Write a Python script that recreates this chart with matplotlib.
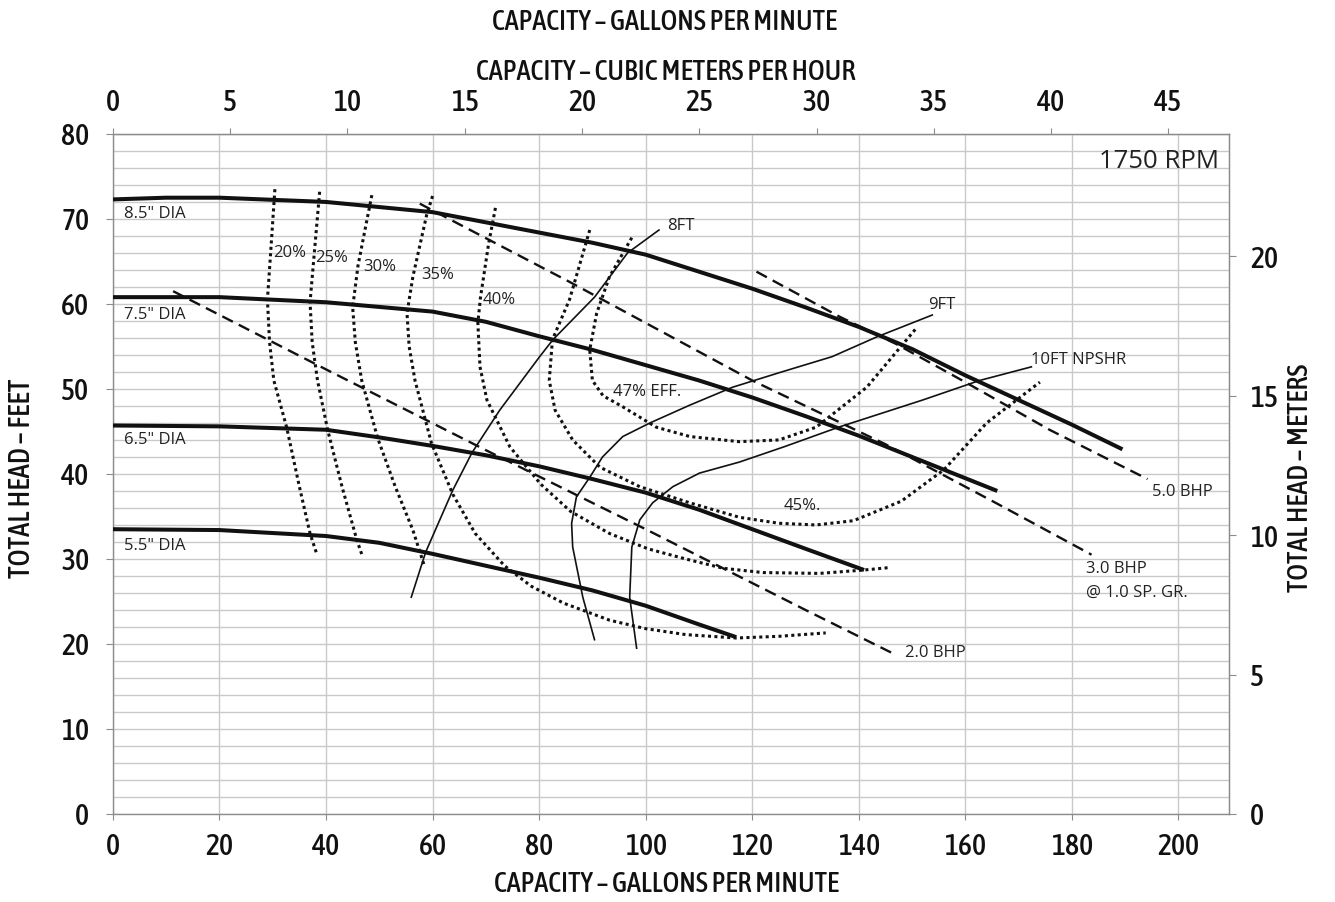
import matplotlib
matplotlib.use('Agg')
import matplotlib.pyplot as plt
from matplotlib import font_manager
from matplotlib.font_manager import FontProperties
from matplotlib.ticker import MultipleLocator

# --- impeller head curves (GPM, ft) ---
dia85_gpm = [0, 10, 20, 40, 60, 80, 90, 100, 110, 120, 130, 140, 150, 160, 170, 180, 189.5]
dia85_ft = [72.3, 72.5, 72.5, 72.0, 70.8, 68.4, 67.2, 65.8, 63.8, 61.8, 59.6, 57.3, 54.7,
            51.6, 48.7, 45.8, 42.9]
dia75_gpm = [0, 20, 40, 60, 70, 80, 90, 100, 110, 120, 130, 140, 150, 160, 166]
dia75_ft = [60.8, 60.8, 60.2, 59.1, 57.9, 56.2, 54.6, 52.8, 51.0, 49.0, 46.8, 44.5, 42.0,
            39.5, 38.0]
dia65_gpm = [0, 20, 40, 50, 60, 70, 80, 90, 100, 110, 120, 130, 141]
dia65_ft = [45.7, 45.6, 45.2, 44.3, 43.3, 42.2, 40.9, 39.4, 37.8, 35.8, 33.5, 31.2, 28.7]
dia55_gpm = [0, 20, 40, 50, 60, 70, 80, 90, 100, 110, 117]
dia55_ft = [33.5, 33.4, 32.7, 31.9, 30.6, 29.2, 27.8, 26.3, 24.5, 22.3, 20.8]

# --- brake horsepower lines ---
bhp2_gpm = [11.3, 40, 70, 100, 130, 146.7]
bhp2_ft = [61.5, 52.3, 42.8, 33.5, 24.0, 18.8]
bhp3_gpm = [57.6, 85.7, 120, 145, 166, 183.7]
bhp3_ft = [71.8, 62.6, 51.0, 43.5, 36.5, 30.5]
bhp5_gpm = [120.8, 136.4, 147, 160, 175.8, 194.2]
bhp5_ft = [63.8, 58.5, 55.3, 50.8, 45.2, 39.4]

# --- efficiency curves ---
eff20_gpm = [30.4, 29.6, 29.0, 29.4, 30.2, 32.6, 35.0, 37.0, 38.3]
eff20_ft = [73.5, 66.0, 60.5, 55.5, 51.0, 45.5, 38.5, 33.0, 30.5]
eff25_gpm = [38.8, 37.8, 37.0, 37.4, 38.4, 40.3, 43.0, 45.8, 46.9]
eff25_ft = [73.2, 66.0, 60.2, 55.5, 51.0, 45.2, 38.5, 32.2, 30.2]
eff30_gpm = [48.6, 47.4, 46.0, 45.0, 45.5, 46.7, 49.7, 53.0, 56.3, 58.5]
eff30_ft = [72.8, 69.0, 64.5, 59.6, 55.5, 51.0, 44.2, 38.5, 33.4, 29.1]
eff35_gpm = [60.0, 58.9, 56.3, 55.2, 55.6, 56.7, 59.8, 63.8, 68.0, 73.5, 78.5,
             84.6, 93.2, 100.0, 107.5, 117.0, 125.0, 133.8]
eff35_ft = [72.7, 70.5, 63.2, 58.9, 55.0, 51.0, 43.6, 37.6, 33.0, 29.2, 26.8,
            24.8, 22.8, 21.8, 21.1, 20.7, 20.9, 21.3]
eff40_gpm = [71.8, 70.5, 69.0, 68.5, 68.9, 70.2, 74.5, 80.3, 85.9, 93.2, 100.4,
             107.5, 114.6, 122.0, 132.6, 141.0, 146.0]
eff40_ft = [71.3, 67.0, 60.8, 57.8, 52.6, 48.7, 43.2, 38.8, 35.6, 33.0, 31.2,
            30.0, 28.9, 28.4, 28.3, 28.7, 29.0]
eff45_gpm = [89.5, 85.7, 82.5, 81.9, 83.0, 86.3, 91.4, 98.9, 108.3, 117.6, 125.0,
             132.0, 139.0, 148.0, 156.0, 164.0, 174.0]
eff45_ft = [68.7, 60.5, 55.8, 51.0, 47.5, 44.0, 40.8, 38.5, 36.6, 34.9, 34.2,
            34.0, 34.5, 36.8, 40.5, 46.0, 50.8]
eff47_gpm = [97.4, 93.2, 90.8, 89.5, 90.0, 92.0, 95.7, 102.0, 108.3, 117.6, 125.0,
             132.0, 141.5, 151.0]
eff47_ft = [67.8, 63.2, 58.9, 54.6, 51.0, 49.2, 47.9, 45.5, 44.4, 43.8, 44.0,
            45.5, 50.2, 57.3]

# --- NPSHR curves ---
npsh8_gpm = [56.0, 58.7, 63.8, 67.4, 72.6, 80.1, 82.6, 90.4, 96.6, 102.5]
npsh8_ft = [25.5, 30.8, 38.1, 42.5, 47.5, 53.8, 55.8, 60.8, 66.0, 68.7]
npsh9_gpm = [90.4, 88.2, 86.3, 86.1, 87.0, 89.5, 91.9, 95.7, 100.8, 108.3, 116.3,
             125.0, 135.0, 143.3, 153.8]
npsh9_ft = [20.5, 25.5, 31.4, 34.2, 37.3, 39.6, 42.0, 44.4, 46.0, 48.1, 50.2,
            51.9, 53.8, 56.1, 58.7]
npsh10_gpm = [98.3, 97.0, 97.4, 98.9, 101.3, 105.1, 110.1, 117.6, 126.0, 136.2,
              152.0, 162.7, 172.4]
npsh10_ft = [19.5, 25.5, 31.4, 34.6, 36.6, 38.5, 40.1, 41.4, 43.2, 45.5,
             48.7, 51.0, 52.6]

# axis ticks
gpm_ticks = [0, 20, 40, 60, 80, 100, 120, 140, 160, 180, 200]
ft_ticks = [0, 10, 20, 30, 40, 50, 60, 70, 80]
m3h_ticks = [0, 5, 10, 15, 20, 25, 30, 35, 40, 45]
m_ticks = [0, 5, 10, 15, 20]

GPM_TO_M3H = 0.2271247
FT_TO_M = 0.3048

LABEL = ['Open Sans', 'DejaVu Sans']
GRID = '#c9c9c9'
SPINE = '#8c8c8c'


def narrow_font():
    """Pick a condensed / narrow face (medium weight if there is one)."""
    found = []
    for f in font_manager.fontManager.ttflist:
        key = (f.name + ' ' + f.fname.split('/')[-1]).lower()
        if ('narrow' in key or 'condensed' in key) and f.style == 'normal':
            if 'light' in key or 'thin' in key or 'black' in key:
                continue
            w = f.weight if isinstance(f.weight, int) else 400
            if 'medium' in key:
                w = 500
            elif 'semibold' in key:
                w = 600
            elif 'bold' in key:
                w = 700
            found.append((abs(w - 520), key, f.fname))
    if found:
        found.sort()
        return FontProperties(fname=found[0][2]), True
    return FontProperties(family=['Liberation Sans', 'DejaVu Sans']), False


def fit_size(fig, s, fp, width_px, base=20.0):
    # scale font size so the text spans width_px, as in the scanned chart
    r = fig.canvas.get_renderer()
    t = fig.text(0, 0, s, fontproperties=fp, fontsize=base)
    w = t.get_window_extent(r).width
    t.remove()
    return base * width_px / w


def plot_pump_curves(plot_file='out.png'):
    fig = plt.figure(figsize=(13.35, 9.02), dpi=100)
    ax = fig.add_axes([0.0846, 0.0976, 0.8360, 0.7539])
    ax.set_xlim(0, 209.5)
    ax.set_ylim(0, 80)
    ax.set_axisbelow(True)

    fp, is_narrow = narrow_font()
    tick_size = min(22.0, fit_size(fig, '200', fp, 42)) if is_narrow else 19.0

    # grid: vertical every 20 GPM, horizontal every 2 ft
    ax.set_xticks(gpm_ticks)
    ax.set_yticks(ft_ticks)
    ax.yaxis.set_minor_locator(MultipleLocator(2))
    ax.grid(which='major', axis='x', color=GRID, lw=1)
    ax.grid(which='both', axis='y', color=GRID, lw=1)
    ax.tick_params(which='minor', length=0)
    ax.tick_params(axis='x', which='major', direction='out', length=4, color=SPINE, pad=9)
    ax.tick_params(axis='y', which='major', direction='out', length=5, color=SPINE, pad=12)
    for s in ax.spines.values():
        s.set_color(SPINE)
        s.set_linewidth(1)

    # secondary scales
    top = ax.secondary_xaxis('top', functions=(lambda q: q * GPM_TO_M3H,
                                                lambda q: q / GPM_TO_M3H))
    top.set_xticks(m3h_ticks)
    top.tick_params(direction='out', length=4, color=SPINE, pad=8)
    top.spines['top'].set_color(SPINE)
    right = ax.secondary_yaxis('right', functions=(lambda h: h * FT_TO_M,
                                                    lambda h: h / FT_TO_M))
    right.set_yticks(m_ticks)
    right.tick_params(direction='out', length=5, color=SPINE, pad=10)
    right.spines['right'].set_color(SPINE)

    for lbl in (ax.get_xticklabels() + ax.get_yticklabels() +
                top.get_xticklabels() + right.get_yticklabels()):
        lbl.set_fontproperties(fp)
        lbl.set_fontsize(tick_size)
        lbl.set_color('#111111')

    # head curves
    for q, h in [(dia85_gpm, dia85_ft), (dia75_gpm, dia75_ft),
                 (dia65_gpm, dia65_ft), (dia55_gpm, dia55_ft)]:
        ax.plot(q, h, color='#111111', lw=2.9, solid_capstyle='butt',
                solid_joinstyle='round', zorder=4)

    # BHP lines
    for q, h in [(bhp2_gpm, bhp2_ft), (bhp3_gpm, bhp3_ft), (bhp5_gpm, bhp5_ft)]:
        ax.plot(q, h, color='#111111', lw=1.7, linestyle=(0, (5, 2.8)), zorder=3)

    # efficiency
    for q, h in [(eff20_gpm, eff20_ft), (eff25_gpm, eff25_ft), (eff30_gpm, eff30_ft),
                 (eff35_gpm, eff35_ft), (eff40_gpm, eff40_ft), (eff45_gpm, eff45_ft),
                 (eff47_gpm, eff47_ft)]:
        ax.plot(q, h, color='#111111', lw=2.2, linestyle=(0, (1, 1.1)), zorder=3)

    # NPSHR
    for q, h in [(npsh8_gpm, npsh8_ft), (npsh9_gpm, npsh9_ft), (npsh10_gpm, npsh10_ft)]:
        ax.plot(q, h, color='#111111', lw=1.2, solid_joinstyle='round', zorder=3)

    # curve labels
    kw = dict(fontsize=12, family=LABEL, color='#222222', va='center', zorder=5)
    ax.text(2.1, 70.6, '8.5" DIA', **kw)
    ax.text(2.1, 58.7, '7.5" DIA', **kw)
    ax.text(2.1, 44.0, '6.5" DIA', **kw)
    ax.text(2.1, 31.5, '5.5" DIA', **kw)
    ax.text(30.0, 66.0, '20%', **kw)
    ax.text(37.9, 65.4, '25%', **kw)
    ax.text(46.9, 64.4, '30%', **kw)
    ax.text(57.8, 63.4, '35%', **kw)
    ax.text(69.4, 60.5, '40%', **kw)
    ax.text(93.8, 49.6, '47% EFF.', **kw)
    ax.text(125.9, 36.2, '45%.', **kw)
    ax.text(104.0, 69.2, '8FT', **kw)
    ax.text(153.0, 59.9, '9FT', **kw)
    ax.text(172.4, 53.4, '10FT NPSHR', **kw)
    ax.text(195.0, 37.9, '5.0 BHP', **kw)
    ax.text(182.7, 28.8, '3.0 BHP', **kw)
    ax.text(182.7, 26.0, '@ 1.0 SP. GR.', **kw)
    ax.text(148.6, 18.9, '2.0 BHP', **kw)
    ax.text(207.7, 76.7, '1750 RPM', fontsize=18.5, family=LABEL, color='#222222',
            ha='right', va='center', zorder=5)

    # axis titles, sized to the widths measured on the reference
    titles = [
        (665, 22, 'CAPACITY – GALLONS PER MINUTE', 345, 0),
        (666, 73, 'CAPACITY – CUBIC METERS PER HOUR', 378, 0),
        (666, 885, 'CAPACITY – GALLONS PER MINUTE', 345, 0),
        (22, 478, 'TOTAL HEAD – FEET', 198, 90),
        (1300, 478, 'TOTAL HEAD – METERS', 228, 90),
    ]
    for px, py, s, wpx, rot in titles:
        size = fit_size(fig, s, fp, wpx)
        fig.text(px / 1335, 1 - py / 902, s, fontproperties=fp, fontsize=size,
                 color='#111111', ha='center', va='center', rotation=rot)

    fig.savefig(plot_file, dpi=100)
    plt.close(fig)


if __name__ == '__main__':
    plot_pump_curves('out.png')
